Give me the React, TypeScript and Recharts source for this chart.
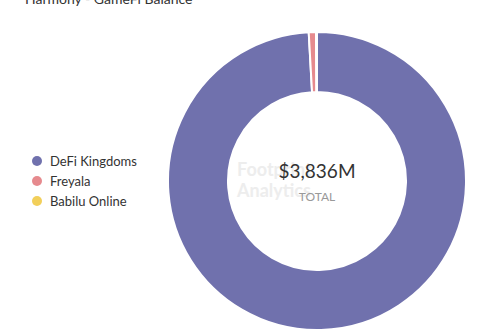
import React from "react";
import { PieChart, Pie, Cell } from "recharts";

const categories = ["DeFi Kingdoms", "Freyala", "Babilu Online"];
const values = [3802, 30, 4];
const colors = ["#7071ad", "#e68a8e", "#f2cf5a"];
const totalLabel = "$3,836M";

const data = categories.map((name, i) => ({ name, value: values[i] }));

export default function App() {
  return (
    <div
      style={{
        position: "absolute",
        left: 0,
        top: 0,
        width: 503,
        height: 332,
        background: "#fff",
        overflow: "hidden",
        fontFamily: "Lato, sans-serif",
      }}
    >
      <div
        style={{
          position: "absolute",
          left: 25,
          top: -10,
          fontSize: 14,
          color: "#333",
          whiteSpace: "nowrap",
        }}
      >
        Harmony - GameFi Balance
      </div>
      <div style={{ position: "absolute", left: 0, top: 0 }}>
        <PieChart width={503} height={332} margin={{ top: 0, right: 0, bottom: 0, left: 0 }}>
          <text x={237} y={176} fontSize={18} fontWeight={700} fill="#ededed" fontFamily="Lato, sans-serif">
            Footprint
          </text>
          <text x={237} y={197} fontSize={18} fontWeight={700} fill="#ededed" fontFamily="Lato, sans-serif">
            Analytics
          </text>
          <Pie
            data={data}
            dataKey="value"
            nameKey="name"
            cx={317}
            cy={181}
            innerRadius={89}
            outerRadius={149}
            startAngle={90}
            endAngle={-270}
            stroke="#fff"
            strokeWidth={2}
            isAnimationActive={false}
          >
            {data.map((d, i) => (
              <Cell key={d.name} fill={colors[i]} />
            ))}
          </Pie>
          <text x={317} y={178} textAnchor="middle" fontSize={19} fill="#333" fontFamily="Lato, sans-serif">
            {totalLabel}
          </text>
          <text x={317} y={201} textAnchor="middle" fontSize={12} fill="#999" fontFamily="Lato, sans-serif">
            TOTAL
          </text>
        </PieChart>
      </div>
      <div style={{ position: "absolute", left: 32, top: 151 }}>
        {data.map((d, i) => (
          <div
            key={d.name}
            style={{ display: "flex", alignItems: "center", height: 20, fontSize: 13, color: "#333" }}
          >
            <span
              style={{
                display: "inline-block",
                width: 10,
                height: 10,
                borderRadius: 5,
                background: colors[i],
                marginRight: 8,
              }}
            />
            {d.name}
          </div>
        ))}
      </div>
    </div>
  );
}
